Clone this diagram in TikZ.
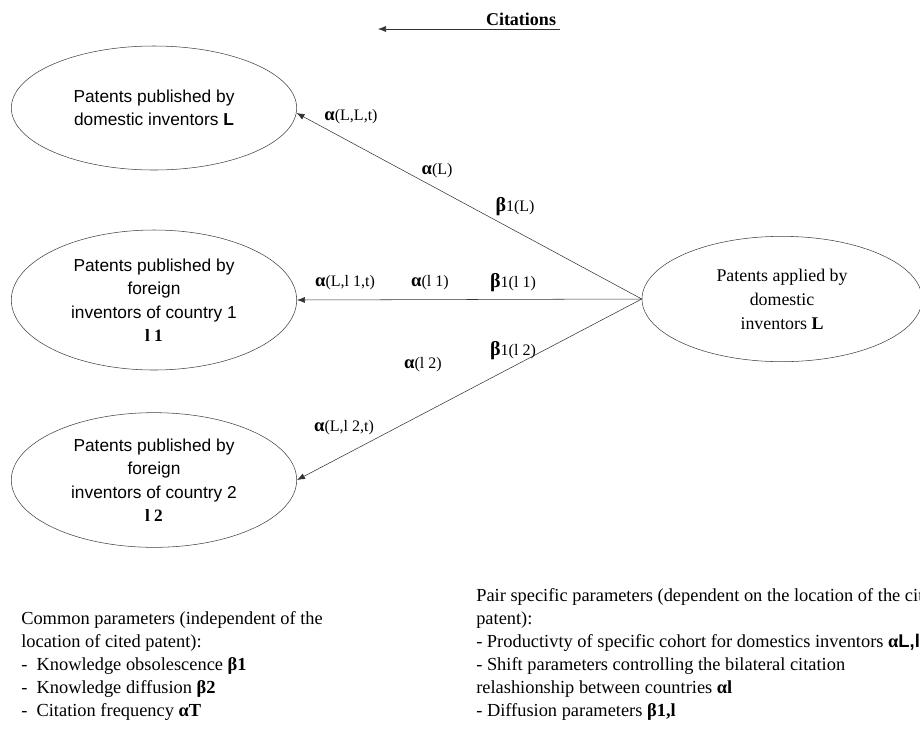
\documentclass[tikz,border=0pt]{standalone}
\usepackage{fontspec}
\setmainfont{Liberation Serif}
\newfontfamily\arialfont{Liberation Sans}
\usepackage{tikz}
\usetikzlibrary{shapes.geometric,arrows.meta}

\newcommand{\bal}{{\fontsize{14}{14}\selectfont\bfseries α}}
\newcommand{\bbe}{{\fontsize{15}{15}\selectfont\bfseries β}}

\begin{document}
\begin{tikzpicture}[x=0.75pt, y=-0.75pt,
  pub/.style={ellipse, draw=black!75, minimum width=214pt, inner sep=0pt, align=center, font=\arialfont\fontsize{13}{17.6}\selectfont},
  cite/.style={-{Latex[length=6pt,width=4.5pt]}, draw=black!80},
  par/.style={inner sep=1pt, font=\fontsize{12}{14}\selectfont},
  note/.style={anchor=north west, align=left, inner sep=0pt, font=\fontsize{13.8}{17.25}\selectfont}]

  \useasboundingbox (0,0) rectangle (920,729);

  % Draw title with citation direction
  \node[font=\bfseries\fontsize{13.5}{16}\selectfont] (cites) at (521,19) {Citations};
  \coordinate (citeR) at (560,29);
  \coordinate (citeL) at (378,29);
  \draw[cite] (citeR) -- (citeL);

  % Draw cited patent groups
  \node[pub, minimum height=93pt] (pubL) at (154,108) {Patents published by\\domestic inventors \textbf{L}};
  \node[pub, minimum height=105pt] (pubA) at (154,300) {Patents published by\\foreign\\inventors of country 1\\{\rmfamily\bfseries l 1}};
  \node[pub, minimum height=101pt] (pubB) at (154,480) {Patents published by\\foreign\\inventors of country 2\\{\rmfamily\bfseries l 2}};

  % Draw citing patents
  \node[ellipse, draw=black!75, minimum width=210pt, minimum height=94pt, inner sep=0pt, align=center, font=\fontsize{13.4}{18}\selectfont] (appL) at (782,299) {Patents applied by\\domestic\\inventors \textbf{L}};

  % Draw citation links
  \draw[cite] (appL.west) -- (pubL.-2);
  \draw[cite] (appL.west) -- (pubA.east);
  \draw[cite] (appL.west) -- (pubB.east);

  % Label the parameters on each link
  \node[par] (aLL) at (351,117) {\bal(L,L,t)};
  \node[par] (aL) at (437,171) {\bal(L)};
  \node[par] (bL) at (515,207) {\bbe 1(L)};
  \node[par] (aLA) at (345,283) {\bal(L,l 1,t)};
  \node[par] (aA) at (430,283) {\bal(l 1)};
  \node[par] (bA) at (513,283) {\bbe 1(l 1)};
  \node[par] (bB) at (513,351) {\bbe 1(l 2)};
  \node[par] (aB) at (423,365) {\bal(l 2)};
  \node[par] (aLB) at (344,428) {\bal(L,l 2,t)};

  % Legends
  \node[note] (common) at (21,611) {Common parameters (independent of the\\location of cited patent):\\-\ \ Knowledge obsolescence \textbf{β1}\\-\ \ Knowledge diffusion \textbf{β2}\\-\ \ Citation frequency \textbf{αT}};
  \node[note] (pair) at (476,588) {Pair specific parameters (dependent on the location of the cited\\patent):\\- Productivty of specific cohort for domestics inventors \textbf{α}{\arialfont\bfseries L,l,t}\\- Shift parameters controlling the bilateral citation\\relashionship between countries \textbf{αl}\\- Diffusion parameters \textbf{β1,l}};
\end{tikzpicture}
\end{document}
